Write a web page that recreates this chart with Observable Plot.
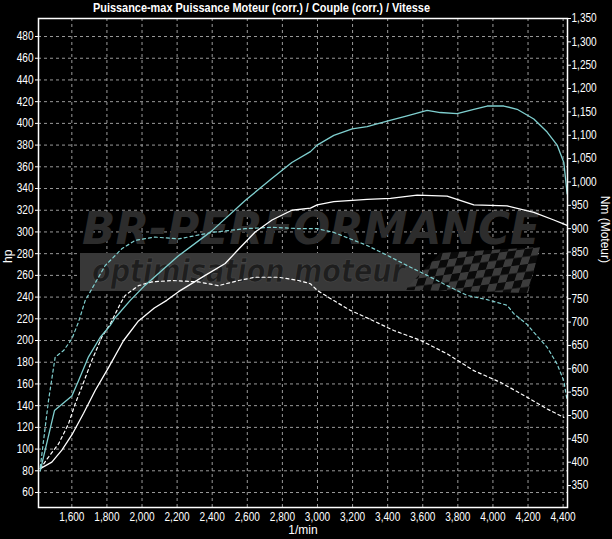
<!DOCTYPE html>
<html>
<head>
<meta charset="utf-8">
<script src="https://cdn.jsdelivr.net/npm/d3@7"></script>
<script src="https://cdn.jsdelivr.net/npm/@observablehq/plot@0.6"></script>
<style>
  html, body { margin: 0; padding: 0; background: #000; }
  #wrap { position: relative; width: 612px; height: 539px; background: #000; overflow: hidden; }
  #chart { position: absolute; left: 0; top: 0; }
  #title { position: absolute; left: 93px; top: 0px; z-index: 2; color: #fff; line-height: 15px;
    font-family: "Liberation Sans", Arial, sans-serif; font-weight: bold; font-size: 13px;
    white-space: nowrap; transform-origin: 0 0; }
</style>
</head>
<body>
<div id="wrap">
  <div id="chart"></div>
  <span id="title">Puissance-max Puissance Moteur (corr.) / Couple (corr.) / Vitesse</span>
</div>
<script>
// ---- tick values ----
const rpmTicks = [1600, 1800, 2000, 2200, 2400, 2600, 2800, 3000, 3200, 3400, 3600, 3800, 4000, 4200, 4400];
const hpTicks = [60, 80, 100, 120, 140, 160, 180, 200, 220, 240, 260, 280, 300, 320, 340, 360, 380, 400, 420, 440, 460, 480];
const nmTicks = [350, 400, 450, 500, 550, 600, 650, 700, 750, 800, 850, 900, 950, 1000, 1050, 1100, 1150, 1200, 1250, 1300, 1350];

// ---- series: [rpm, value] ----
const cyanPower = [
  [1420, 80], [1501, 135.5], [1600, 149], [1638, 163], [1695, 185], [1762, 203], [1819, 214],
  [1847, 221], [1933, 237], [2018, 251], [2208, 278], [2398, 301], [2588, 329], [2738, 349],
  [2854, 364], [2960, 374], [2998, 380], [3093, 389], [3198, 395], [3283, 397], [3397, 402],
  [3511, 407], [3625, 412], [3700, 410], [3796, 409], [3891, 413], [3967, 416], [4062, 416],
  [4138, 413], [4233, 404], [4309, 392], [4366, 380], [4404, 364], [4423, 335]
];
const whitePower = [
  [1420, 82], [1486, 88], [1543, 99], [1600, 113], [1667, 133], [1733, 154], [1809, 175],
  [1895, 200], [1980, 218], [2070, 230], [2141, 237], [2208, 245], [2360, 260], [2474, 271],
  [2550, 284], [2645, 300], [2741, 311], [2854, 320], [2960, 322], [2998, 325], [3093, 328],
  [3283, 330], [3416, 331], [3568, 334], [3739, 333], [3891, 325], [4081, 324], [4233, 318],
  [4347, 311], [4423, 306]
];
const cyanTorque = [
  [1420, 389], [1467, 532], [1505, 625], [1553, 639], [1600, 664], [1638, 700], [1676, 746],
  [1714, 771], [1790, 821], [1885, 857], [1961, 875], [2075, 882], [2208, 878], [2398, 892],
  [2588, 900], [2741, 903], [2900, 900], [2998, 900], [3093, 892], [3188, 878], [3283, 864],
  [3397, 843], [3511, 821], [3625, 800], [3739, 778], [3853, 757], [3967, 748], [4081, 736],
  [4119, 718], [4195, 695], [4233, 678], [4309, 646], [4366, 610], [4404, 574], [4423, 532]
];
const whiteTorque = [
  [1420, 386], [1467, 411], [1524, 439], [1581, 482], [1619, 525], [1657, 561], [1714, 618],
  [1771, 668], [1819, 696], [1876, 739], [1904, 757], [1980, 778], [2056, 786], [2170, 789],
  [2322, 786], [2436, 778], [2550, 789], [2645, 796], [2778, 796], [2892, 789], [2960, 782],
  [2998, 768], [3093, 746], [3188, 725], [3283, 709], [3435, 682], [3587, 661], [3739, 632],
  [3891, 596], [4043, 571], [4195, 539], [4309, 514], [4404, 496]
];

// ---- scale setup ----
const hpDomain = [46.2, 496.6];
const nmDomain = [303, 1350];
const k = (hpDomain[1] - hpDomain[0]) / (nmDomain[1] - nmDomain[0]);
const nmToHp = nm => hpDomain[0] + (nm - nmDomain[0]) * k;
const hpToNm = hp => nmDomain[0] + (hp - hpDomain[0]) / k;
const fmt = d3.format(",");

const cyan = "#7fcfcf";
const gridColor = "#9a9a9a";
const font = '"Liberation Sans", Arial, sans-serif';

const plot = Plot.plot({
  width: 612,
  height: 539,
  marginTop: 18,
  marginBottom: 32,
  marginLeft: 38,
  marginRight: 45,
  style: { background: "#000", color: "#fff", fontFamily: font, fontSize: "12px", overflow: "visible" },
  x: { domain: [1410, 4425], label: null },
  y: { domain: hpDomain, label: null },
  marks: [
    Plot.gridX(rpmTicks, { stroke: gridColor, strokeOpacity: 1, strokeDasharray: "3,3" }),
    Plot.gridY(hpTicks, { stroke: gridColor, strokeOpacity: 1, strokeDasharray: "3,3" }),
    Plot.line(whiteTorque, { x: d => d[0], y: d => nmToHp(d[1]), stroke: "#fff", strokeWidth: 1.2, strokeDasharray: "3,3" }),
    Plot.line(cyanTorque, { x: d => d[0], y: d => nmToHp(d[1]), stroke: cyan, strokeWidth: 1.2, strokeDasharray: "3,3" }),
    Plot.line(whitePower, { x: d => d[0], y: d => d[1], stroke: "#fff", strokeWidth: 1.3 }),
    Plot.line(cyanPower, { x: d => d[0], y: d => d[1], stroke: cyan, strokeWidth: 1.3 }),
    Plot.frame({ stroke: "#fff", strokeWidth: 1.5 }),
    Plot.axisY(hpTicks, { anchor: "left", tickSize: 3, tickPadding: 2, label: null }),
    Plot.axisY(nmTicks.map(nmToHp), { anchor: "right", tickSize: 3, tickPadding: 1, label: null,
      tickFormat: d => fmt(Math.round(hpToNm(d))) }),
    Plot.axisX(rpmTicks, { tickSize: 0, tickPadding: 5, tickFormat: fmt, label: null }),
    Plot.text(["hp"], { frameAnchor: "left", text: d => d, rotate: -90, dx: -30, fill: "#fff", fontSize: 12 }),
    Plot.text(["Nm (Moteur)"], { frameAnchor: "right", text: d => d, rotate: 90, dx: 37, fill: "#fff", fontSize: 12 }),
    Plot.text(["1/min"], { frameAnchor: "bottom", text: d => d, dy: 26, fill: "#fff", fontSize: 12 })
  ]
});

// condensed look for tick labels (the reference uses a narrow face)
plot.querySelectorAll('[aria-label$="tick label"] text').forEach(t => {
  const tr = t.getAttribute("transform") || "";
  t.setAttribute("transform", tr + " scale(0.84,1)");
});

// ---- watermark (decoration behind curves) ----
const ns = "http://www.w3.org/2000/svg";
const wm = document.createElementNS(ns, "g");
wm.setAttribute("text-anchor", "start");
wm.innerHTML = `
  <defs>
    <pattern id="chk" width="16" height="16" patternUnits="userSpaceOnUse" patternTransform="skewX(-25) rotate(-8)">
      <rect width="16" height="16" fill="#0a0a0a"/>
      <rect width="8" height="8" fill="#3c3c3c"/>
      <rect x="8" y="8" width="8" height="8" fill="#3c3c3c"/>
    </pattern>
  </defs>
  <rect x="80" y="253" width="340" height="38" fill="#383838"/>
  <path d="M 405 290 L 440 253 L 540 247 L 528 293 Z" fill="url(#chk)"/>
  <text x="82" y="244" textLength="458" lengthAdjust="spacingAndGlyphs" font-family="DejaVu Sans" font-weight="bold" font-style="italic" font-size="44" fill="#2c2c2c">BR-PERFORMANCE</text>
  <text x="92" y="282" textLength="313" lengthAdjust="spacingAndGlyphs" font-family="DejaVu Sans" font-weight="bold" font-style="italic" font-size="32" fill="#1e1e1e" stroke="#4a4a4a" stroke-width="0.6">optimisation moteur</text>
`;
const firstLine = plot.querySelector('[aria-label="line"]');
plot.insertBefore(wm, firstLine);

document.getElementById("chart").appendChild(plot);

// fit title width to the reference's condensed title
const title = document.getElementById("title");
const w = title.getBoundingClientRect().width;
title.style.transform = `scale(${337 / w}, 1)`;
</script>
</body>
</html>
